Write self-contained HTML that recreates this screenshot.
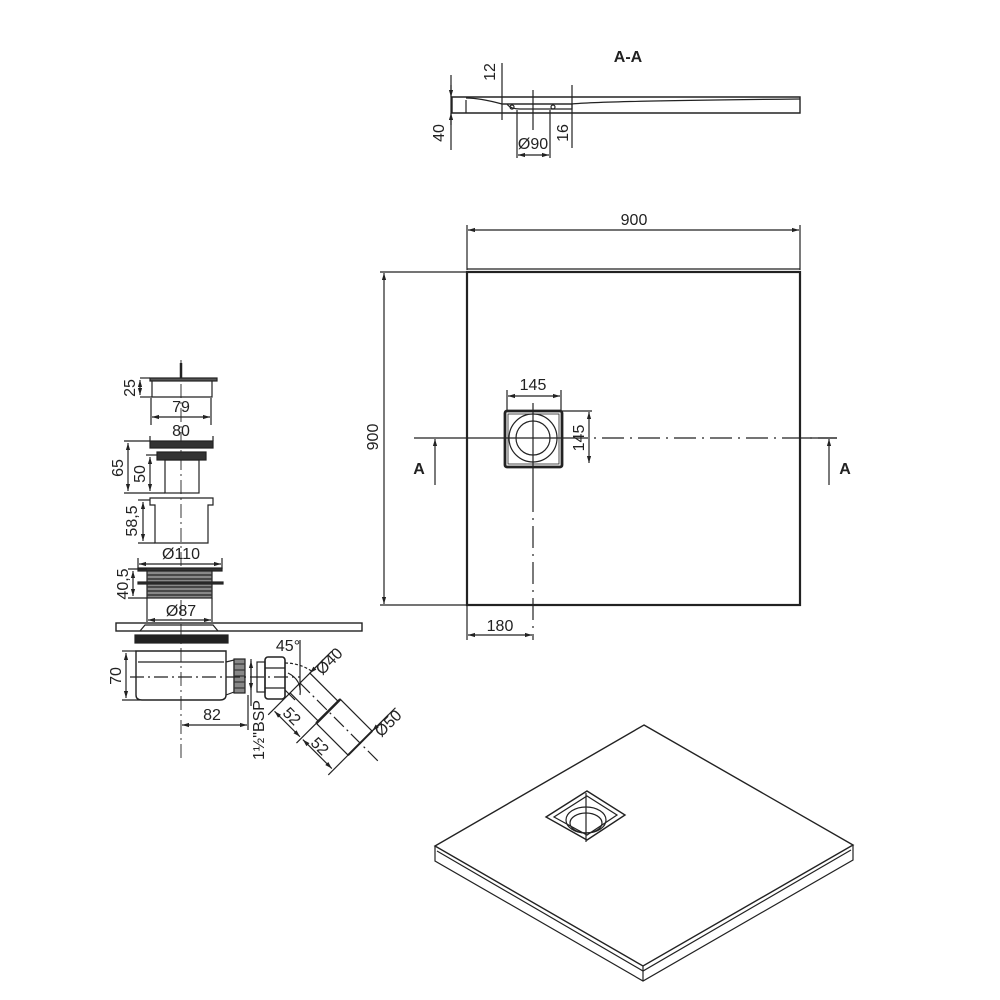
<!DOCTYPE html>
<html><head><meta charset="utf-8"><style>
html,body{margin:0;padding:0;background:#fff}
svg{display:block}
text{font-family:"Liberation Sans",sans-serif;font-size:16px;fill:#222;font-weight:500}
</style></head><body>
<svg width="1000" height="1000" viewBox="0 0 1000 1000" xmlns="http://www.w3.org/2000/svg">
<defs>
<marker id="a" viewBox="0 0 10 10" refX="10" refY="5" markerWidth="6" markerHeight="6" orient="auto-start-reverse"><path d="M0,2 L10,5 L0,8z" fill="#222"/></marker>
</defs>
<g stroke="#222" fill="none" stroke-width="1.2">

<path d="M452,97 L800,97 L800,113 L452,113 Z" stroke-width="1.4"/>
<path d="M466,100 L466,113"/>
<path d="M466,98 Q480,98 502,104 L572,104 Q600,101 800,99"/>
<path d="M503,104 L572,104 L572,109 L520,109 Q510,109 507,104" />
<circle cx="512" cy="107" r="2"/><circle cx="553" cy="107" r="2"/>
<line x1="451" y1="75" x2="451" y2="150"/>
<line x1="451" y1="85" x2="451" y2="97" marker-end="url(#a)"/>
<line x1="451" y1="125" x2="451" y2="113" marker-end="url(#a)"/>
<line x1="502" y1="63" x2="502" y2="120"/>
<line x1="572" y1="85" x2="572" y2="148"/>
<line x1="533" y1="90" x2="533" y2="130"/>
<line x1="517" y1="110" x2="517" y2="158"/>
<line x1="550" y1="110" x2="550" y2="158"/>
<line x1="518" y1="155" x2="549" y2="155" marker-start="url(#a)" marker-end="url(#a)"/>

<rect x="467" y="272" width="333" height="333" stroke-width="2.2"/>
<line x1="467" y1="269" x2="800" y2="269" stroke-width="1.2"/>
<line x1="467" y1="225" x2="467" y2="270"/>
<line x1="800" y1="225" x2="800" y2="270"/>
<line x1="468" y1="230" x2="799" y2="230" marker-start="url(#a)" marker-end="url(#a)"/>
<line x1="380" y1="272" x2="467" y2="272"/>
<line x1="380" y1="605" x2="467" y2="605"/>
<line x1="384" y1="273" x2="384" y2="604" marker-start="url(#a)" marker-end="url(#a)"/>
<rect x="505" y="411" width="57" height="56" rx="2" stroke-width="2.8"/>
<rect x="508" y="414" width="51" height="50" stroke-width="0.8"/>
<circle cx="533" cy="438" r="24"/>
<circle cx="533" cy="438" r="17"/>
<line x1="414" y1="438" x2="566" y2="438"/>
<line x1="566" y1="438" x2="837" y2="438" stroke-dasharray="22,6,2,6"/>
<line x1="533" y1="403" x2="533" y2="490"/>
<line x1="533" y1="490" x2="533" y2="640" stroke-dasharray="22,6,2,6"/>
<line x1="507" y1="390" x2="507" y2="411"/>
<line x1="561" y1="390" x2="561" y2="411"/>
<line x1="508" y1="396" x2="560" y2="396" marker-start="url(#a)" marker-end="url(#a)"/>
<line x1="562" y1="411" x2="592" y2="411"/>
<line x1="589" y1="412" x2="589" y2="463" marker-start="url(#a)" marker-end="url(#a)"/>
<line x1="435" y1="485" x2="435" y2="439" marker-end="url(#a)"/>
<line x1="829" y1="485" x2="829" y2="439" marker-end="url(#a)"/>
<line x1="804" y1="438" x2="837" y2="438"/>
<line x1="467" y1="605" x2="467" y2="640"/>
<line x1="468" y1="635" x2="532" y2="635" marker-start="url(#a)" marker-end="url(#a)"/>

<line x1="181" y1="360" x2="181" y2="760" stroke-dasharray="14,4,2,4" stroke-width="0.9"/>
<rect x="150" y="378" width="67" height="3" fill="#555"/>
<path d="M152,381 L152,397 L212,397 L212,381"/>
<line x1="181" y1="363" x2="181" y2="378" stroke-width="2.5"/>
<line x1="140" y1="378" x2="150" y2="378"/><line x1="140" y1="397" x2="152" y2="397"/>
<line x1="140" y1="380" x2="140" y2="395" marker-start="url(#a)" marker-end="url(#a)"/>
<line x1="151" y1="398" x2="151" y2="425"/><line x1="211" y1="398" x2="211" y2="425"/>
<line x1="152" y1="417" x2="210" y2="417" marker-start="url(#a)" marker-end="url(#a)"/>
<line x1="150" y1="436" x2="150" y2="441"/><line x1="213" y1="436" x2="213" y2="441"/>
<rect x="150" y="441" width="63" height="7" fill="#333"/>
<rect x="157" y="452" width="49" height="8" fill="#333"/>
<rect x="165" y="460" width="34" height="33"/>
<line x1="124" y1="441" x2="150" y2="441"/><line x1="124" y1="493" x2="165" y2="493"/>
<line x1="128" y1="443" x2="128" y2="491" marker-start="url(#a)" marker-end="url(#a)"/>
<line x1="146" y1="455" x2="157" y2="455"/>
<line x1="150" y1="457" x2="150" y2="491" marker-start="url(#a)" marker-end="url(#a)"/>
<path d="M150,498 L213,498 L213,505 L208,505 L208,543 L155,543 L155,505 L150,505 Z"/>
<line x1="138" y1="500" x2="150" y2="500"/><line x1="138" y1="543" x2="155" y2="543"/>
<line x1="143" y1="502" x2="143" y2="541" marker-start="url(#a)" marker-end="url(#a)"/>
<line x1="138" y1="558" x2="138" y2="569"/><line x1="222" y1="558" x2="222" y2="569"/>
<line x1="139" y1="564" x2="221" y2="564" marker-start="url(#a)" marker-end="url(#a)"/>
<rect x="138" y="568" width="84" height="3" fill="#333"/>
<rect x="147" y="571" width="65" height="27" fill="#888"/>
<g stroke="#333" stroke-width="1.5"><line x1="147" y1="575" x2="212" y2="575"/><line x1="147" y1="579" x2="212" y2="579"/><line x1="147" y1="587" x2="212" y2="587"/><line x1="147" y1="591" x2="212" y2="591"/><line x1="147" y1="595" x2="212" y2="595"/></g>
<rect x="138" y="582" width="85" height="2" fill="#333"/>
<line x1="128" y1="569" x2="147" y2="569"/><line x1="128" y1="598" x2="147" y2="598"/>
<line x1="133" y1="571" x2="133" y2="596" marker-start="url(#a)" marker-end="url(#a)"/>
<line x1="147" y1="598" x2="147" y2="622"/><line x1="212" y1="598" x2="212" y2="622"/>
<line x1="148" y1="620" x2="211" y2="620" marker-start="url(#a)" marker-end="url(#a)"/>
<rect x="116" y="623" width="246" height="8" stroke-width="1.4"/>
<path d="M140,631 L145,625 L213,625 L218,631"/>
<rect x="135" y="635" width="93" height="8" fill="#222"/>
<path d="M136,651 L226,651 L226,695 Q226,700 220,700 L142,700 Q136,700 136,695 Z" stroke-width="1.4"/>
<line x1="138" y1="662" x2="224" y2="662"/>
<path d="M226,662 L234,660 L234,692 L226,695"/>
<rect x="234" y="659" width="11" height="34" fill="#888"/>
<g stroke="#333"><line x1="234" y1="664" x2="245" y2="664"/><line x1="234" y1="670" x2="245" y2="670"/><line x1="234" y1="676" x2="245" y2="676"/><line x1="234" y1="682" x2="245" y2="682"/><line x1="234" y1="688" x2="245" y2="688"/></g>
<line x1="130" y1="677" x2="300" y2="677" stroke-dasharray="14,4,2,4"/>
<line x1="122" y1="651" x2="136" y2="651"/><line x1="122" y1="700" x2="140" y2="700"/>
<line x1="126" y1="653" x2="126" y2="698" marker-start="url(#a)" marker-end="url(#a)"/>
<line x1="248" y1="695" x2="248" y2="730"/>
<line x1="182" y1="725" x2="247" y2="725" marker-start="url(#a)" marker-end="url(#a)"/>
<line x1="251" y1="659" x2="251" y2="706"/>
<line x1="251" y1="661" x2="251" y2="690" marker-start="url(#a)" marker-end="url(#a)"/>
<rect x="257" y="662" width="8" height="30"/>
<rect x="265" y="657" width="20" height="42" rx="3" stroke-width="1.6"/>
<line x1="265" y1="668" x2="285" y2="668"/><line x1="265" y1="688" x2="285" y2="688"/>
<path d="M285,663 Q300,663 313,672" stroke-dasharray="3,2"/>
<path d="M285,690 L295,700"/>
<path d="M300,640 L300,690" />
<path d="M288,673 Q302,680 300,695" />
<g transform="translate(300,683) rotate(45)">
<rect x="0" y="-14" width="40" height="28"/>
<rect x="40" y="-17" width="45" height="34"/>
<line x1="40" y1="-17" x2="40" y2="17" stroke-width="2.5"/>
<line x1="85" y1="-17" x2="85" y2="17" stroke-width="2"/>
<line x1="0" y1="0" x2="110" y2="0" stroke-dasharray="14,4,2,4"/>
<line x1="0" y1="-14" x2="0" y2="-45"/>
<line x1="0" y1="14" x2="0" y2="45"/>
<line x1="40" y1="17" x2="40" y2="45"/>
<line x1="85" y1="17" x2="85" y2="45"/>
<line x1="85" y1="-17" x2="85" y2="-50"/>
<line x1="2" y1="38" x2="38" y2="38" marker-start="url(#a)" marker-end="url(#a)"/>
<line x1="42" y1="38" x2="83" y2="38" marker-start="url(#a)" marker-end="url(#a)"/>
<line x1="0" y1="-38" x2="0" y2="-14" marker-end="url(#a)"/>
<line x1="85" y1="-40" x2="85" y2="-17" marker-end="url(#a)"/>
</g>

<path d="M644,725 L853,845 L643,966 L435,846 Z" stroke-width="1.4"/>
<path d="M435,846 L435,861 L643,981 L853,860 L853,845"/>
<path d="M437,851 L643,971 L851,850"/>
<line x1="643" y1="966" x2="643" y2="981"/>
<path d="M587,791 L625,815 L587,840 L546,817 Z" stroke-width="1.4"/>
<path d="M587,796 L617,815 L587,835 L554,817 Z"/>
<ellipse cx="586" cy="820" rx="20" ry="13"/>
<ellipse cx="586" cy="823" rx="16" ry="10"/>
<line x1="586" y1="793" x2="586" y2="842"/>
</g>

<text x="628" y="62" text-anchor="middle" style="font-weight:bold">A-A</text>
<text transform="translate(444,133) rotate(-90)" text-anchor="middle">40</text>
<text transform="translate(495,72) rotate(-90)" text-anchor="middle">12</text>
<text transform="translate(568,133) rotate(-90)" text-anchor="middle">16</text>
<text x="533" y="149" text-anchor="middle">Ø90</text>
<text x="634" y="225" text-anchor="middle">900</text>
<text transform="translate(378,437) rotate(-90)" text-anchor="middle">900</text>
<text x="533" y="390" text-anchor="middle">145</text>
<text transform="translate(584,438) rotate(-90)" text-anchor="middle">145</text>
<text x="419" y="474" text-anchor="middle" style="font-weight:bold">A</text>
<text x="845" y="474" text-anchor="middle" style="font-weight:bold">A</text>
<text x="500" y="631" text-anchor="middle">180</text>
<text transform="translate(135,388) rotate(-90)" text-anchor="middle">25</text>
<text x="181" y="412" text-anchor="middle">79</text>
<text x="181" y="436" text-anchor="middle">80</text>
<text transform="translate(123,468) rotate(-90)" text-anchor="middle">65</text>
<text transform="translate(145,474) rotate(-90)" text-anchor="middle">50</text>
<text transform="translate(137,521) rotate(-90)" text-anchor="middle">58,5</text>
<text x="181" y="559" text-anchor="middle">Ø110</text>
<text transform="translate(128,584) rotate(-90)" text-anchor="middle">40,5</text>
<text x="181" y="616" text-anchor="middle">Ø87</text>
<text transform="translate(121,676) rotate(-90)" text-anchor="middle">70</text>
<text x="212" y="720" text-anchor="middle">82</text>
<text transform="translate(264,730) rotate(-90)" text-anchor="middle">1½"BSP</text>
<text x="288" y="651" text-anchor="middle">45°</text>
<text transform="translate(333,665) rotate(-45)" text-anchor="middle">Ø40</text>
<text transform="translate(392,727) rotate(-45)" text-anchor="middle">Ø50</text>
<text transform="translate(288,720) rotate(45)" text-anchor="middle">52</text>
<text transform="translate(316,750) rotate(45)" text-anchor="middle">52</text>
</svg>
</body></html>
